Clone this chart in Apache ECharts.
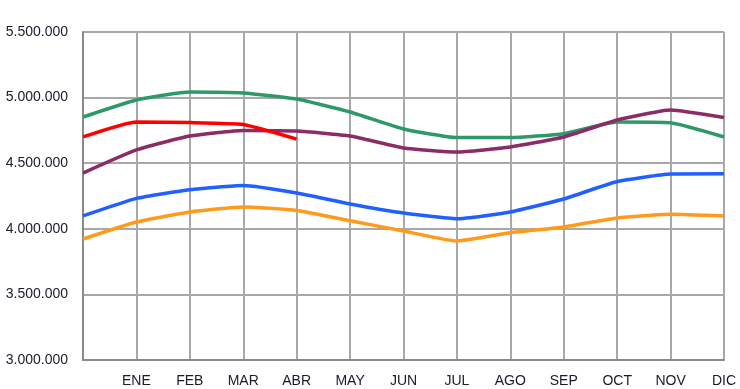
<!DOCTYPE html>
<html><head><meta charset="utf-8">
<script src="https://cdn.jsdelivr.net/npm/echarts@6/dist/echarts.min.js"></script>
<style>html,body{margin:0;padding:0;background:#fff}#c{width:740px;height:389px}</style>
</head><body><div id="c"></div>
<script>
const categories = ['', 'ENE','FEB','MAR','ABR','MAY','JUN','JUL','AGO','SEP','OCT','NOV','DIC'];
const greenValues  = [4852000,4982000,5043000,5035000,4989000,4890000,4761000,4695000,4695000,4725000,4814000,4808000,4700000];
const purpleValues = [4425000,4601000,4707000,4750000,4745000,4707000,4616000,4585000,4623000,4700000,4829000,4906000,4848000];
const redValues    = [4700000,4814000,4810000,4795000,4684000];
const blueValues   = [4098000,4232000,4298000,4330000,4273000,4189000,4120000,4077000,4128000,4227000,4360000,4418000,4420000];
const orangeValues = [3922000,4052000,4128000,4166000,4140000,4062000,3983000,3907000,3970000,4014000,4082000,4110000,4098000];
const yTicks = {min:3000000, max:5500000, interval:500000};

function fmt(v){ return String(v).replace(/\B(?=(\d{3})+(?!\d))/g,'.'); }
const mk = (data,color)=>({type:'line',data,smooth:0.15,symbol:'none',lineStyle:{color,width:3.5},itemStyle:{color},z:3});
const chart = echarts.init(document.getElementById('c'));
chart.setOption({
  animation:false,
  grid:{left:83,right:16,top:32,bottom:29,containLabel:false},
  xAxis:{type:'category',data:categories,boundaryGap:false,
    axisLine:{lineStyle:{color:'#8a8a8a',width:2}},
    axisTick:{show:false},
    axisLabel:{interval:0,margin:14,fontFamily:'Liberation Sans, Arial',fontSize:14,color:'#1a1a2a'},
    splitLine:{show:true,interval:0,lineStyle:{color:'#a8a8a8',width:2}}},
  yAxis:{type:'value',min:yTicks.min,max:yTicks.max,interval:yTicks.interval,
    axisLine:{show:true,lineStyle:{color:'#8a8a8a',width:2}},
    axisTick:{show:false},
    axisLabel:{margin:15,fontFamily:'Liberation Sans, Arial',fontSize:14,color:'#1a1a2a',formatter:fmt},
    splitLine:{lineStyle:{color:'#a8a8a8',width:2}}},
  series:[
    mk(greenValues,'#2e9968'),
    mk(purpleValues,'#8b2c69'),
    mk(blueValues,'#2060ff'),
    mk(orangeValues,'#ff9a1a'),
    mk(redValues,'#ff0000')
  ]
});
</script></body></html>
